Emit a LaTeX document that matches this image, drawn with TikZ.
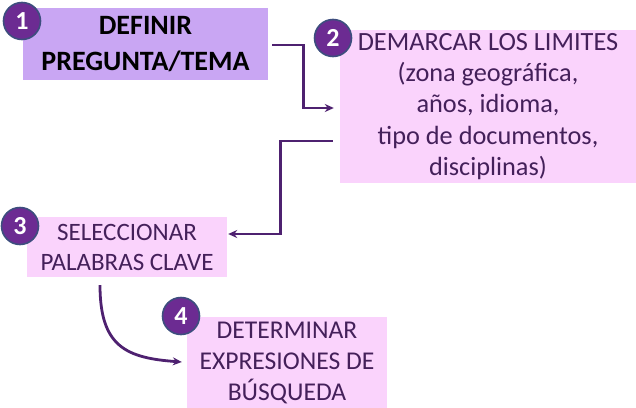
\documentclass[tikz,border=0pt]{standalone}
\usepackage{fontspec}
\setmainfont{Carlito}
\usetikzlibrary{arrows.meta}
\definecolor{lav}{HTML}{C9A6F3}
\definecolor{pinkbox}{HTML}{FAD3FC}
\definecolor{txtpurp}{HTML}{44205A}
\definecolor{linepurp}{HTML}{4E2170}
\definecolor{circfill}{HTML}{6C2B92}
\definecolor{circedge}{HTML}{3D4E7E}
\tikzset{
  box/.style={inner sep=0pt, align=center, text=txtpurp, font=\fontsize{26.3}{31.2}\selectfont},
  numcirc/.style={circle, fill=circfill, draw=circedge, line width=1.6pt, minimum size=37pt, inner sep=0pt, text=white, font=\fontsize{26}{26}\selectfont\bfseries},
  conn/.style={draw=linepurp, line width=2.8pt, -{Stealth[length=9pt,width=8pt]}}
}
\begin{document}
\begin{tikzpicture}[x=1pt,y=-1pt]
\useasboundingbox (0,0) rectangle (636,407);
% boxes
\node[box, fill=lav, minimum width=245pt, minimum height=72pt, text=black, font=\fontsize{28}{36}\selectfont\bfseries] (b1) at (145.5,44) {DEFINIR\\PREGUNTA/TEMA};
\node[box, fill=pinkbox, minimum width=296pt, minimum height=153pt] (b2) at (488,106.5) {DEMARCAR LOS LIMITES\\(zona geográfica,\\años, idioma,\\tipo de documentos,\\disciplinas)};
\node[box, fill=pinkbox, minimum width=200pt, minimum height=60pt, font=\fontsize{25}{30}\selectfont] (b3) at (127,247) {SELECCIONAR\\PALABRAS CLAVE};
\node[box, fill=pinkbox, minimum width=200pt, minimum height=92pt, font=\fontsize{25.6}{31}\selectfont] (b4) at (287,363) {DETERMINAR\\EXPRESIONES DE\\BÚSQUEDA};
% number circles
\node[numcirc] (n1) at (22,21) {1};
\node[numcirc] (n2) at (333,38) {2};
\node[numcirc] (n3) at (20,226) {3};
\node[numcirc] (n4) at (181,316) {4};
% connectors
\coordinate (s12) at ([xshift=4pt,yshift=-1pt]b1.east);
\coordinate (e12) at ([xshift=-6pt,yshift=-1.5pt]b2.west);
\draw[conn] (s12) -- ++(31,0) |- (e12);
\coordinate (s23) at ([xshift=-7pt,yshift=-34.5pt]b2.west);
\coordinate (e23) at ([xshift=1pt,yshift=13pt]b3.east);
\draw[conn] (s23) -- ++(-52,0) |- (e23);
\coordinate (s34) at ([xshift=-27pt,yshift=-8pt]b3.south);
\coordinate (e34) at ([xshift=-5pt,yshift=1pt]b4.west);
\draw[conn] (s34) .. controls +(0,62) and +(-55,-4) .. (e34);
\end{tikzpicture}
\end{document}
